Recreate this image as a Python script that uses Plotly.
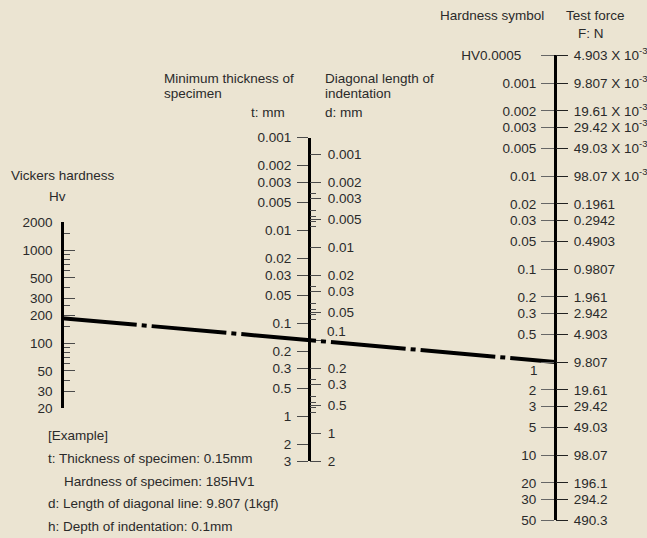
import math
import plotly.graph_objects as go

# ---- scale values -------------------------------------------------------
hv_ticks = [2000, 1000, 500, 300, 200, 100, 50, 30, 20]
hv_minor = [1500, 900, 800, 700, 600, 400, 250, 150, 90, 80, 70, 60, 40]

t_ticks = [0.001, 0.002, 0.003, 0.005, 0.01, 0.02, 0.03, 0.05,
           0.1, 0.2, 0.3, 0.5, 1, 2, 3]
t_minor = [0.004, 0.006, 0.007, 0.008, 0.009, 0.04, 0.06, 0.07, 0.08, 0.09,
           0.4, 0.6, 0.7, 0.8, 0.9]
d_ticks = [0.001, 0.002, 0.003, 0.005, 0.01, 0.02, 0.03, 0.05,
           0.1, 0.2, 0.3, 0.5, 1, 2]

load_symbols = [0.0005, 0.001, 0.002, 0.003, 0.005, 0.01, 0.02, 0.03, 0.05,
                0.1, 0.2, 0.3, 0.5, 1, 2, 3, 5, 10, 20, 30, 50]
load_symbol_text = ["HV0.0005\u00a0\u00a0\u00a0\u00a0", "0.001", "0.002", "0.003",
                    "0.005", "0.01", "0.02", "0.03", "0.05", "0.1", "0.2", "0.3",
                    "0.5", "1", "2", "3", "5", "10", "20", "30", "50"]
force_n = [4.903e-3, 9.807e-3, 19.61e-3, 29.42e-3, 49.03e-3, 98.07e-3,
           0.1961, 0.2942, 0.4903, 0.9807, 1.961, 2.942, 4.903, 9.807,
           19.61, 29.42, 49.03, 98.07, 196.1, 294.2, 490.3]
force_text = ["4.903 X 10<sup>-3</sup>", "9.807 X 10<sup>-3</sup>",
              "19.61 X 10<sup>-3</sup>", "29.42 X 10<sup>-3</sup>",
              "49.03 X 10<sup>-3</sup>", "98.07 X 10<sup>-3</sup>",
              "0.1961", "0.2942", "0.4903", "0.9807", "1.961", "2.942", "4.903",
              "9.807", "19.61", "29.42", "49.03", "98.07", "196.1", "294.2", "490.3"]

# worked example
example_hv = 185
example_load = 1          # HV1 -> 1 kgf
example_force = 9.807
example_t = 0.15
example_d = 0.1
example_h = 0.1

# ---- nomogram geometry --------------------------------------------------
W, H = 647, 538
K = 93.0                      # pixels per decade on every scale
X_HV, X_MID, X_LOAD = 62, 309, 555
PY_HV_TOP = 222               # row of the top Hv tick
PY_LOAD_ONE = 362             # row of the 1 kgf tick
KGF = 9.807
VICKERS = 1.8544              # HV = 1.8544 F / d^2
T_OVER_D = 1.5                # minimum thickness = 1.5 d

FONT = "Liberation Sans, Arial, sans-serif"
TEXT = "#2a2a2a"
BG = "#ebe4d2"
TICK = "#4a4a4a"
FS = 13.5


def py_hv(v):
    return PY_HV_TOP + K * math.log10(hv_ticks[0] / v)


def py_load(s):
    return PY_LOAD_ONE + K * math.log10(s)


MID0 = (PY_HV_TOP + K * math.log10(hv_ticks[0]) + PY_LOAD_ONE) / 2 - K / 2 * math.log10(VICKERS)


def py_d(d):
    return MID0 + K * math.log10(d)


def d_at(py):
    return 10 ** ((py - MID0) / K)


def py_t(t):
    return py_d(t / T_OVER_D)


def load_at(py):
    return 10 ** ((py - PY_LOAD_ONE) / K)


def log_axis(py_top, py_bot, v_top, v_bot, x_px, side, **kw):
    ax = dict(type="log", domain=[1 - py_bot / H, 1 - py_top / H],
              range=[math.log10(v_bot), math.log10(v_top)],
              anchor="free", position=x_px / W, side=side, automargin=False,
              showgrid=False, zeroline=False, fixedrange=True,
              tickmode="array", tickcolor=TICK, tickwidth=1.4,
              tickfont=dict(family=FONT, size=FS, color=TEXT))
    ax.update(kw)
    return ax


t_top, t_bot = t_ticks[0], t_ticks[-1]
mid_top, mid_bot = py_t(t_top), py_t(t_bot)
load_top, load_bot = load_symbols[0], load_symbols[-1]

# labels crossed by the example line are placed separately, clear of it
d_text = ["" if v == example_d else f"{v:g}" for v in d_ticks]
sym_text = ["" if v == example_load else s for v, s in zip(load_symbols, load_symbol_text)]

layout_axes = dict(
    yaxis=log_axis(py_hv(hv_ticks[0]), py_hv(hv_ticks[-1]), hv_ticks[0], hv_ticks[-1],
                   X_HV, "left", tickvals=hv_ticks, ticktext=[str(v) for v in hv_ticks],
                   ticks="inside", ticklen=11, ticklabelstandoff=6,
                   showline=True, linecolor="black", linewidth=2.5,
                   minor=dict(tickvals=hv_minor, ticks="inside", ticklen=6,
                              tickcolor=TICK, tickwidth=1.4)),
    yaxis2=log_axis(mid_top, mid_bot, t_top, t_bot, X_MID, "left",
                    tickvals=t_ticks, ticktext=[f"{v:g}" for v in t_ticks],
                    ticks="outside", ticklen=11, ticklabelstandoff=3,
                    showline=True, linecolor="black", linewidth=3),
    yaxis3=log_axis(mid_top, mid_bot, d_at(mid_top), d_at(mid_bot), X_MID, "right",
                    tickvals=d_ticks, ticktext=d_text,
                    ticks="outside", ticklen=11, ticklabelstandoff=4,
                    showline=False),
    yaxis4=log_axis(mid_top, mid_bot, t_top, t_bot, X_MID, "right",
                    tickvals=t_minor, showticklabels=False,
                    ticks="outside", ticklen=6, showline=False),
    yaxis5=log_axis(py_load(load_top), py_load(load_bot), load_top, load_bot,
                    X_LOAD, "left", tickvals=load_symbols, ticktext=sym_text,
                    ticks="outside", ticklen=13, ticklabelstandoff=2,
                    tickcolor="#666666",
                    showline=True, linecolor="black", linewidth=3),
    yaxis6=log_axis(py_load(load_top), py_load(load_bot), load_top * KGF, load_bot * KGF,
                    X_LOAD, "right", tickvals=force_n, ticktext=force_text,
                    ticks="outside", ticklen=12, ticklabelstandoff=3,
                    tickcolor="#222222", showline=False),
)

fig = go.Figure()

# empty traces so every scale gets its own subplot
for ax in ["y", "y2", "y3", "y4", "y6"]:
    fig.add_trace(go.Scatter(x=[], y=[], xaxis="x", yaxis=ax, showlegend=False,
                             hoverinfo="skip"))

# example isopleth: Hv 185 on the left scale to HV1 on the right scale
fig.add_trace(go.Scatter(
    x=[X_HV, X_LOAD],
    y=[load_at(py_hv(example_hv)), example_load],
    xaxis="x", yaxis="y5", mode="lines", showlegend=False, hoverinfo="skip",
    line=dict(color="black", width=4, dash="75px,5px,5px,5px"),
))

fig.update_layout(
    width=W, height=H, margin=dict(l=0, r=0, t=0, b=0, pad=0, autoexpand=False),
    paper_bgcolor=BG, plot_bgcolor="rgba(0,0,0,0)",
    font=dict(family=FONT, size=FS, color=TEXT),
    xaxis=dict(range=[0, W], domain=[0, 1], visible=False, fixedrange=True,
               automargin=False),
    **layout_axes,
)


def label(text, x_px, y_px, anchor="left"):
    fig.add_annotation(text=text, x=x_px / W, y=1 - y_px / H, xref="paper", yref="paper",
                       xanchor=anchor, yanchor="middle", showarrow=False,
                       font=dict(family=FONT, size=FS, color=TEXT))


label(f"{example_d:g}", 325, py_d(example_d) - 9)
label(f"{example_load:g}", 540, py_load(example_load) + 8, "right")

label("Hardness symbol", 438, 15)
label("Test force", 564, 15)
label("F: N", 576, 33)
label("Minimum thickness of", 162, 78)
label("specimen", 162, 93)
label("t: mm", 287, 113, "right")
label("Diagonal length of", 323, 78)
label("indentation", 323, 93)
label("d: mm", 323, 113)
label("Vickers hardness", 9, 176)
label("Hv", 57, 196, "center")

label("[Example]", 46, 435)
label(f"t: Thickness of specimen: {example_t:g}mm", 46, 458)
label(f"Hardness of specimen: {example_hv}HV{example_load:g}", 62, 481)
label(f"d: Length of diagonal line: {example_force:g} (1kgf)", 46, 503)
label(f"h: Depth of indentation: {example_h:g}mm", 46, 526)

fig.write_html("out.html")
